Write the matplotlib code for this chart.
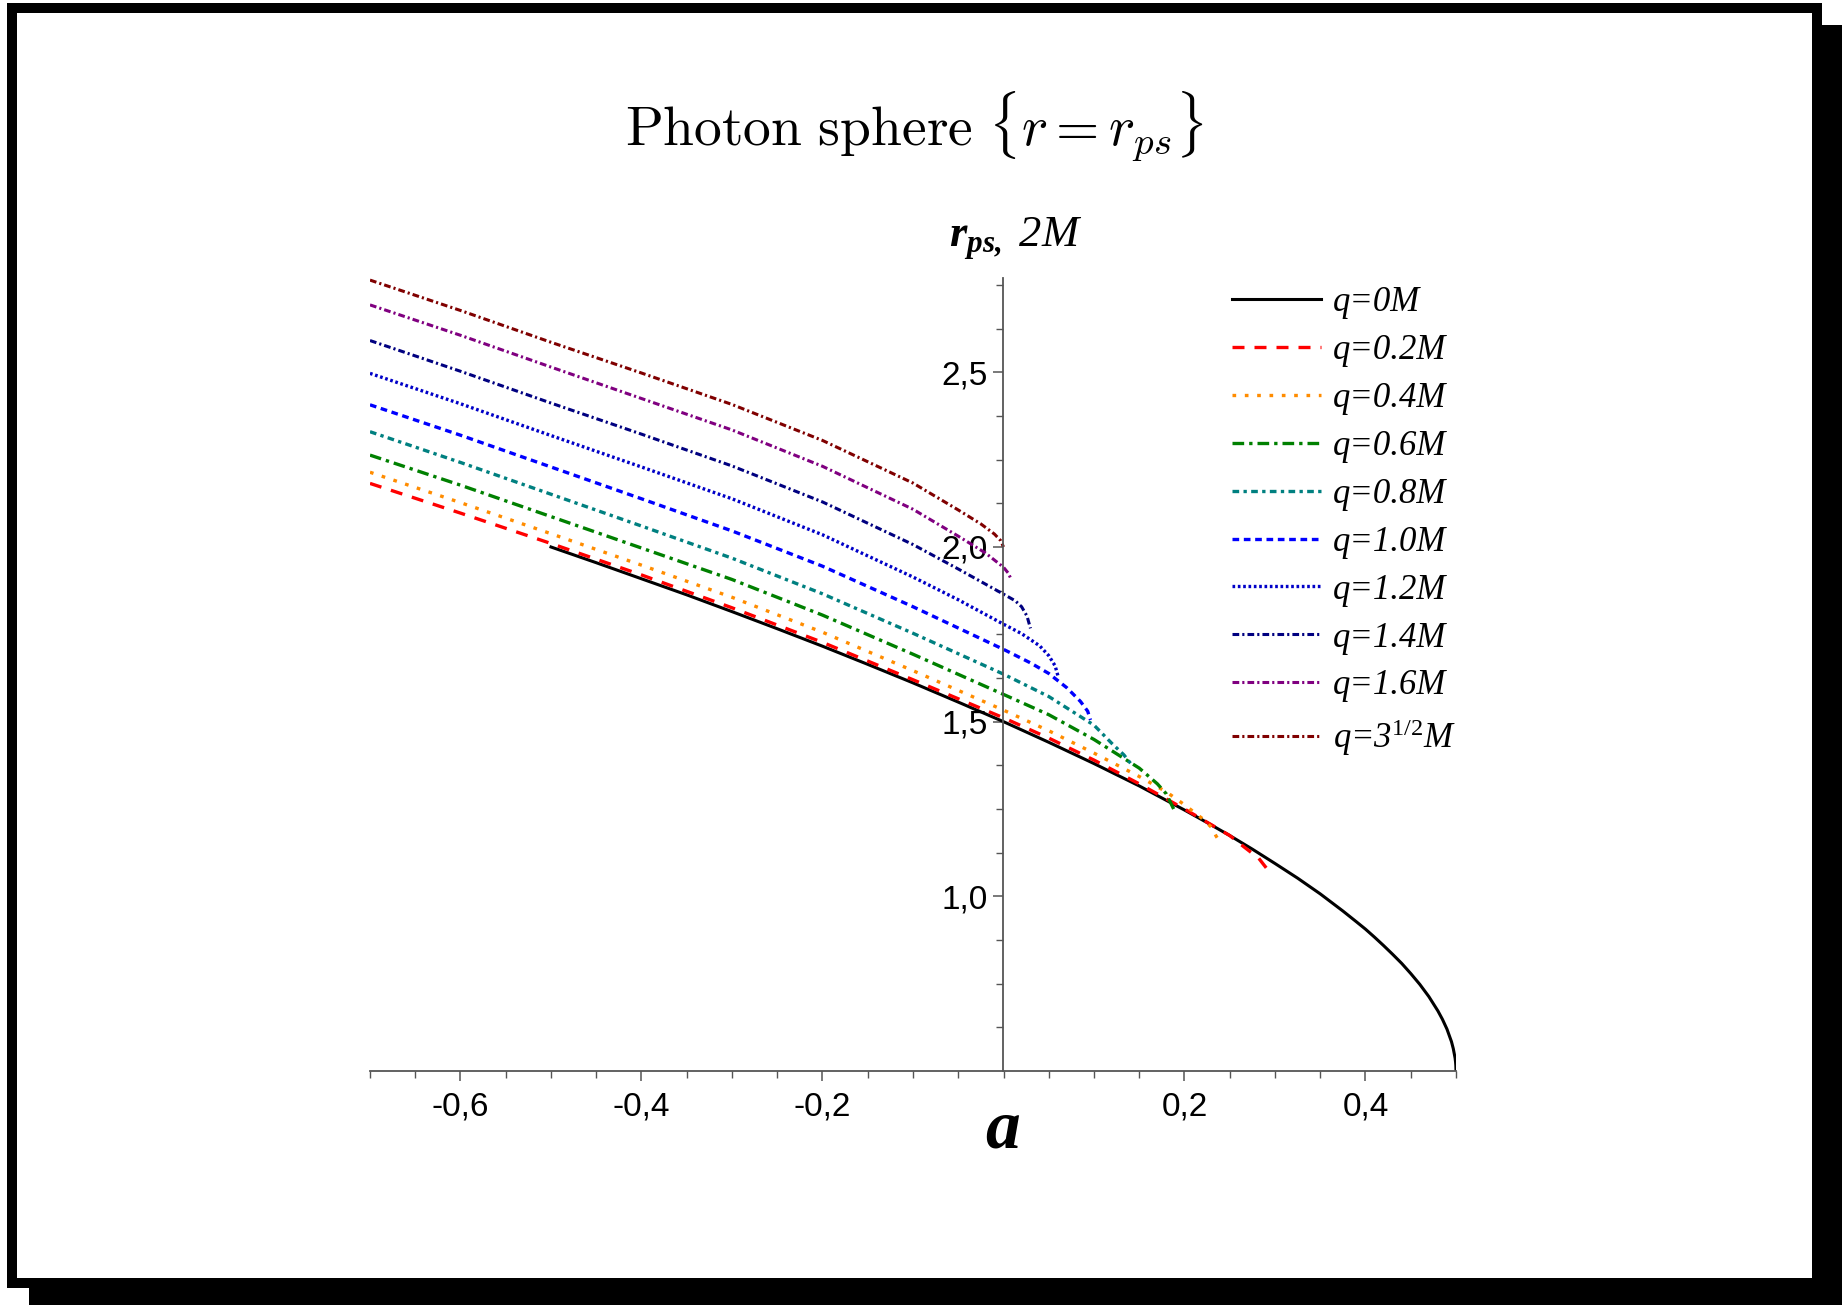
import numpy as np
import matplotlib
matplotlib.use("Agg")
import matplotlib.pyplot as plt
from matplotlib.patches import Rectangle

# values: a on x, r_ps (units of 2M) on y
a_q00 = [-0.5, -0.48, -0.45, -0.4, -0.35, -0.3, -0.25, -0.2, -0.15, -0.1, -0.05, 0.0, 0.05, 0.1,
         0.15, 0.2, 0.225, 0.25, 0.275, 0.3, 0.325, 0.35, 0.375, 0.39, 0.4, 0.41, 0.42, 0.43, 0.44,
         0.45, 0.46, 0.47, 0.48, 0.485, 0.49, 0.495, 0.497, 0.499, 0.4995, 0.4998, 0.5]
r_q00 = [2.0, 1.982, 1.955, 1.909, 1.863, 1.815, 1.766, 1.716, 1.664, 1.611, 1.556, 1.5, 1.441, 1.380,
         1.316, 1.247, 1.211, 1.174, 1.135, 1.094, 1.052, 1.007, 0.958, 0.927, 0.906, 0.883, 0.859, 0.834, 0.808,
         0.779, 0.748, 0.713, 0.672, 0.648, 0.620, 0.584, 0.564, 0.537, 0.526, 0.516, 0.5]

a_q02 = [-0.7, -0.6, -0.5, -0.4, -0.3, -0.2, -0.1, 0.0, 0.05, 0.1, 0.15, 0.2, 0.25, 0.2655, 0.282, 0.295]
r_q02 = [2.182, 2.097, 2.010, 1.920, 1.826, 1.727, 1.620, 1.511, 1.453, 1.390, 1.322, 1.250, 1.174, 1.142, 1.109, 1.066]

a_q04 = [-0.7, -0.6, -0.5, -0.4, -0.3, -0.2, -0.1, 0.0, 0.05, 0.1, 0.15, 0.18, 0.2, 0.22, 0.23, 0.235, 0.24]
r_q04 = [2.214, 2.127, 2.038, 1.948, 1.856, 1.756, 1.646, 1.533, 1.474, 1.410, 1.343, 1.299, 1.262, 1.222, 1.197, 1.172, 1.152]

a_q06 = [-0.7, -0.6, -0.5, -0.4, -0.3, -0.2, -0.1, 0.0, 0.05, 0.1, 0.15, 0.17, 0.18, 0.188]
r_q06 = [2.263, 2.177, 2.087, 1.997, 1.907, 1.805, 1.693, 1.578, 1.520, 1.449, 1.367, 1.322, 1.293, 1.250]

a_q08 = [-0.7, -0.6, -0.5, -0.4, -0.3, -0.2, -0.1, 0.0, 0.05, 0.1, 0.12, 0.133, 0.1403]
r_q08 = [2.330, 2.242, 2.151, 2.060, 1.968, 1.866, 1.753, 1.636, 1.572, 1.490, 1.437, 1.405, 1.381]

a_q10 = [-0.7, -0.6, -0.5, -0.4, -0.3, -0.2, -0.1, 0.0, 0.03, 0.05, 0.07, 0.085, 0.093, 0.0961]
r_q10 = [2.407, 2.320, 2.229, 2.138, 2.046, 1.945, 1.829, 1.707, 1.668, 1.638, 1.597, 1.558, 1.530, 1.505]

a_q12 = [-0.7, -0.6, -0.5, -0.4, -0.3, -0.2, -0.1, -0.05, 0.0, 0.02, 0.04, 0.05, 0.057, 0.0604]
r_q12 = [2.497, 2.410, 2.319, 2.229, 2.138, 2.035, 1.914, 1.849, 1.779, 1.752, 1.717, 1.689, 1.660, 1.629]

a_q14 = [-0.7, -0.6, -0.5, -0.4, -0.3, -0.2, -0.1, -0.05, 0.0, 0.013, 0.02, 0.026, 0.0298]
r_q14 = [2.591, 2.503, 2.412, 2.323, 2.232, 2.129, 2.007, 1.937, 1.865, 1.846, 1.829, 1.802, 1.767]

a_q16 = [-0.7, -0.6, -0.5, -0.4, -0.3, -0.2, -0.1, -0.05, -0.02, 0.0, 0.005, 0.0077]
r_q16 = [2.693, 2.606, 2.515, 2.425, 2.335, 2.231, 2.108, 2.031, 1.983, 1.942, 1.926, 1.912]

a_qs3 = [-0.7, -0.6, -0.5, -0.4, -0.3, -0.2, -0.1, -0.05, -0.025, -0.01, -0.003, 0.0]
r_qs3 = [2.764, 2.677, 2.586, 2.498, 2.408, 2.305, 2.183, 2.106, 2.066, 2.037, 2.018, 2.0]

labels = ["q=0M", "q=0.2M", "q=0.4M", "q=0.6M", "q=0.8M", "q=1.0M", "q=1.2M", "q=1.4M", "q=1.6M",
          r"q=3$^{\mathit{1/2}}$M"]
xtick_vals = [-0.6, -0.4, -0.2, 0.2, 0.4]
xtick_labels = ["-0,6", "-0,4", "-0,2", "0,2", "0,4"]
ytick_vals = [1.0, 1.5, 2.0, 2.5]
ytick_labels = ["1,0", "1,5", "2,0", "2,5"]

W, H = 1842, 1305
plt.rcParams["mathtext.fontset"] = "custom"
plt.rcParams["mathtext.rm"] = "Liberation Serif"
plt.rcParams["mathtext.it"] = "Liberation Serif:italic"
plt.rcParams["mathtext.bf"] = "Liberation Serif:bold:italic"

fig = plt.figure(figsize=(W / 100, H / 100), dpi=100)

# page frame with drop shadow
fig.patches.append(Rectangle((29 / W, 0), (W - 29) / W, 1280 / H, transform=fig.transFigure,
                             facecolor="black", edgecolor="none", zorder=-3))
fig.patches.append(Rectangle((7 / W, 17 / H), 1815 / W, 1285 / H, transform=fig.transFigure,
                             facecolor="black", edgecolor="none", zorder=-2))
fig.patches.append(Rectangle((17 / W, 27 / H), 1795 / W, 1265 / H, transform=fig.transFigure,
                             facecolor="white", edgecolor="none", zorder=-1))

ax = fig.add_axes([370 / W, 1 - 1071 / H, 1086 / W, 793 / H])
ax.patch.set_visible(False)

series = [
    (a_q00, r_q00, "black", "-", 2.2),
    (a_q02, r_q02, "#ff0000", (0, (3.6, 3.0)), 2.4),
    (a_q04, r_q04, "#ff8c00", (0, (1.1, 2.6)), 2.4),
    (a_q06, r_q06, "#008000", (0, (3.5, 1.5, 1.0, 1.5)), 2.4),
    (a_q08, r_q08, "#008080", (0, (2.0, 1.3, 1.0, 1.3)), 2.4),
    (a_q10, r_q10, "#0000ff", (0, (2.0, 1.4)), 2.4),
    (a_q12, r_q12, "#0000c8", (0, (0.8, 0.8)), 2.4),
    (a_q14, r_q14, "#000080", (0, (2.2, 1.0, 0.7, 1.0)), 2.2),
    (a_q16, r_q16, "#800080", (0, (2.2, 1.0, 0.7, 1.0)), 2.2),
    (a_qs3, r_qs3, "#800000", (0, (2.2, 1.0, 0.7, 1.0)), 2.2),
]
for (a, r, col, ls, lw), lab in zip(series, labels):
    ax.plot(a, r, color=col, linestyle=ls, linewidth=lw, label=lab)

ax.set_xlim(-0.7, 0.5)
ax.set_ylim(0.5, 2.77)
for s in ("top", "right"):
    ax.spines[s].set_visible(False)
ax.spines["left"].set_position(("data", 0))
for s in ("left", "bottom"):
    ax.spines[s].set_color("#555555")
    ax.spines[s].set_linewidth(1.3)

ax.set_xticks(xtick_vals, labels=xtick_labels)
ax.set_xticks(np.arange(-0.7, 0.501, 0.05), minor=True)
ax.set_yticks(ytick_vals, labels=ytick_labels)
ax.set_yticks(np.arange(0.625, 2.76, 0.125), minor=True)
ax.tick_params(which="major", length=7.5, width=1.1, color="#555555", direction="out")
ax.tick_params(which="minor", length=5, width=1.0, color="#555555", direction="out")
ax.tick_params(axis="x", which="major", pad=7)
ax.tick_params(axis="y", which="major", pad=4)
for t in ax.get_xticklabels() + ax.get_yticklabels():
    t.set_fontfamily("Liberation Sans")
    t.set_fontsize(24)

ax.legend(loc="upper left", bbox_to_anchor=(1232 / W, 1 - 286 / H), bbox_transform=fig.transFigure,
          frameon=False, borderpad=0, borderaxespad=0, handlelength=2.55, handletextpad=0.35,
          labelspacing=0.43, prop={"family": "Liberation Serif", "style": "italic", "size": 25})

fig.text(914 / W, 1 - 127 / H, r"$\mathrm{Photon\ sphere}\ \{r = r_{ps}\}$", math_fontfamily="cm",
         fontsize=40, ha="center", va="center")
fig.text(949 / W, 1 - 247 / H, r"$\mathbf{r}_{\mathbf{ps,}}$ 2M", family="Liberation Serif",
         style="italic", fontsize=32, ha="left", va="baseline")
fig.text(1003 / W, 1 - 1148 / H, "a", family="Liberation Serif", style="italic", weight="bold",
         fontsize=50, ha="center", va="baseline")

fig.savefig("out.png", dpi=100)
